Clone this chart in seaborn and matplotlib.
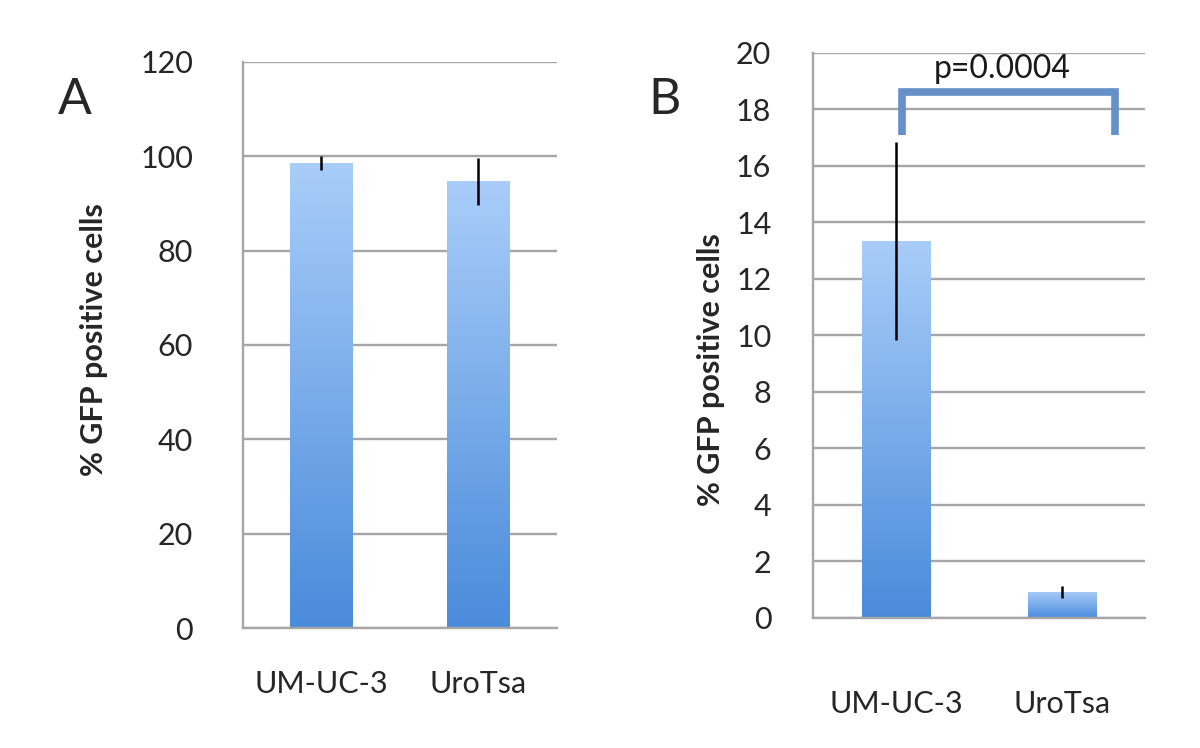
import matplotlib
matplotlib.use("Agg")
import matplotlib.pyplot as plt
import numpy as np
import pandas as pd
import seaborn as sns
from matplotlib.colors import LinearSegmentedColormap

# data
cells = ["UM-UC-3", "UroTsa"]
gfp_a = [98.5, 94.7]
err_a = [1.5, 5.0]
gfp_b = [13.35, 0.92]
err_b = [3.5, 0.2]
p_text = "p=0.0004"
bracket_top = 18.6
bracket_leg = 17.1

sns.set_theme(style="white")
plt.rcParams["font.family"] = ["Lato", "DejaVu Sans"]

GRID = "#a6a6a6"
bar_cmap = LinearSegmentedColormap.from_list("bar", ["#4a8bdb", "#a9cdf9"])


def gradient_bars(ax):
    for patch in ax.patches:
        x0, y0 = patch.get_x(), patch.get_y()
        w, h = patch.get_width(), patch.get_height()
        grad = np.linspace(0, 1, 256).reshape(-1, 1)
        im = ax.imshow(grad, cmap=bar_cmap, origin="lower", aspect="auto",
                       extent=[x0, x0 + w, y0, y0 + h], zorder=2)
        im.set_clip_path(patch)
        patch.set_alpha(0)


def style_axes(ax, ymax, ystep, xpad, ypad):
    ax.set_xlim(-0.5, 1.5)
    ax.set_ylim(0, ymax)
    ax.set_yticks(np.arange(0, ymax + ystep / 2, ystep))
    ax.yaxis.grid(True, color=GRID, lw=1.7)
    ax.set_axisbelow(True)
    ax.set_xticks([0, 1])
    ax.set_xticklabels(cells)
    ax.set_xticks([-0.5, 0.5, 1.5], minor=True)
    ax.tick_params(axis="x", which="major", length=0, pad=xpad, labelsize=22)
    ax.tick_params(axis="x", which="minor", length=12, width=1.7, color=GRID, direction="out")
    ax.tick_params(axis="y", length=12, width=1.7, color=GRID, direction="out", pad=ypad, labelsize=22)
    for s in ["top", "right"]:
        ax.spines[s].set_visible(False)
    for s in ["left", "bottom"]:
        ax.spines[s].set_color(GRID)
        ax.spines[s].set_linewidth(1.7)
    ax.set_xlabel(None)
    ax.set_ylabel("% GFP positive cells", fontsize=22, fontweight="bold")


fig = plt.figure(figsize=(12, 7.48), dpi=100)
ax_a = fig.add_axes([0.2025, 0.1604, 0.2615, 0.757])
ax_b = fig.add_axes([0.6775, 0.1738, 0.2767, 0.7557])

df_a = pd.DataFrame({"cell": cells, "gfp": gfp_a})
df_b = pd.DataFrame({"cell": cells, "gfp": gfp_b})

sns.barplot(data=df_a, x="cell", y="gfp", width=0.4, errorbar=None, ax=ax_a)
sns.barplot(data=df_b, x="cell", y="gfp", width=0.41, errorbar=None, ax=ax_b)

for ax, vals, errs in [(ax_a, gfp_a, err_a), (ax_b, gfp_b, err_b)]:
    gradient_bars(ax)
    ax.errorbar(range(len(vals)), vals, yerr=errs, fmt="none", ecolor="black",
                elinewidth=1.8, capsize=0, zorder=3)

style_axes(ax_a, 120, 20, xpad=30, ypad=24)
style_axes(ax_b, 20, 2, xpad=52, ypad=18)
ax_a.yaxis.set_label_coords(-0.43, 0.51)
ax_b.yaxis.set_label_coords(-0.265, 0.44)

# significance bracket
bx = [0.036, 0.036, 1.32, 1.32]
by = [bracket_leg, bracket_top, bracket_top, bracket_leg]
ax_b.plot(bx, by, color="#6590c8", lw=5.5, solid_joinstyle="miter",
          solid_capstyle="butt", clip_on=False, zorder=4)
ax_b.text(0.64, bracket_top + 0.3, p_text, ha="center", va="bottom",
          fontsize=23, color="#1a1a1a", zorder=5)

fig.text(0.0625, 0.866, "A", fontsize=36, ha="center", va="center")
fig.text(0.554, 0.866, "B", fontsize=36, ha="center", va="center")

fig.savefig("out.png", dpi=100)
